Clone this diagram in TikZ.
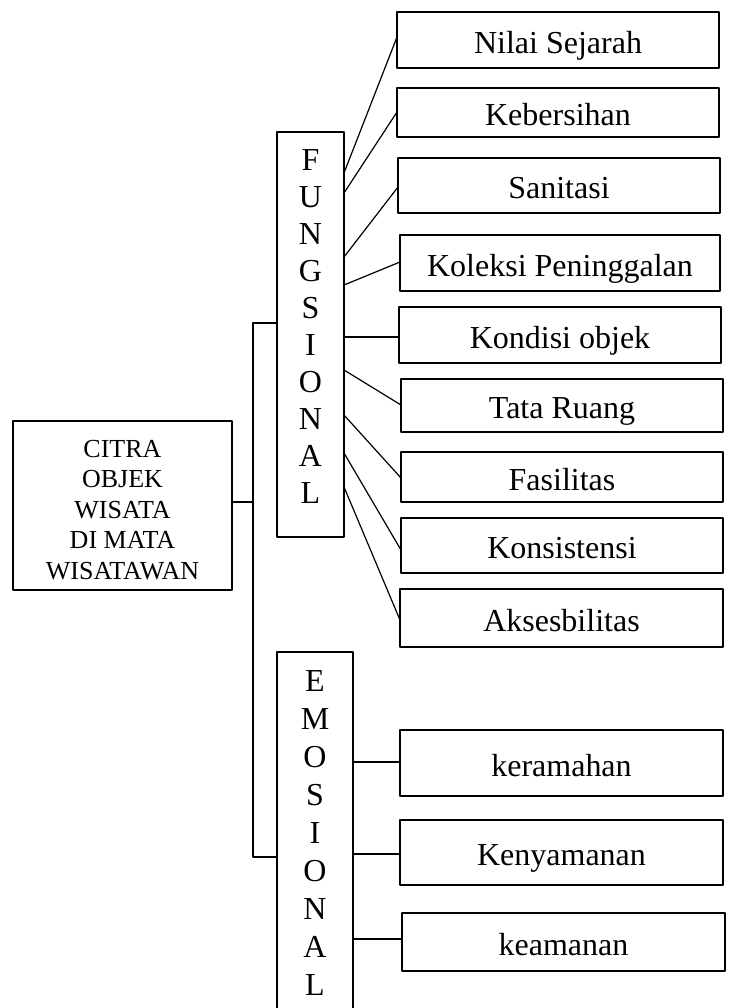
\documentclass[tikz,border=0pt]{standalone}
\usepackage{fontspec}
\setmainfont{Liberation Serif}
\begin{document}
\begin{tikzpicture}[x=0.5pt,y=-0.5pt,line join=round,line width=0.6pt,
	kotak/.style={draw,inner sep=0pt,outer sep=0pt,align=center,anchor=north west},
	isi/.style={font=\fontsize{16}{19}\selectfont,text height=15pt,text depth=2pt}]
	\useasboundingbox (0,0) rectangle (729,1008);
	\clip (0,0) rectangle (729,1008);
	% kotak utama
	\node[kotak,minimum width=109.5pt,minimum height=84.5pt,text height=74pt,font=\fontsize{13}{15.25}\selectfont] (citra) at (13,421) {CITRA\\OBJEK\\WISATA\\DI MATA\\WISATAWAN};
	% dua kelompok
	\node[kotak,minimum width=33.5pt,minimum height=202.5pt,text depth=8pt,font=\fontsize{16}{18.5}\selectfont] (fung) at (277,132) {F\\U\\N\\G\\S\\I\\O\\N\\A\\L};
	\node[kotak,minimum width=38pt,minimum height=181pt,font=\fontsize{16}{19}\selectfont] (emo) at (277,652) {E\\M\\O\\S\\I\\O\\N\\A\\L};
	% kotak kanan: nama/kiri/atas/kanan/bawah/teks
	\foreach \n/\l/\t/\r/\b/\s in {nilai/397/12/719/68/Nilai Sejarah, bersih/397/88/719/137/Kebersihan,
		sanitasi/398/158/720/213/Sanitasi, koleksi/400/235/720/291/Koleksi Peninggalan,
		kondisi/399/307/721/363/Kondisi objek, tata/401/379/723/432/Tata Ruang,
		fasilitas/401/452/723/502/Fasilitas, konsistensi/401/518/723/573/Konsistensi,
		akses/400/589/723/647/Aksesbilitas, ramah/400/730/723/796/keramahan,
		nyaman/400/820/723/885/Kenyamanan, aman/402/913/725/971/keamanan}
		\node[kotak,isi,minimum width={(\r-\l)*0.5pt},minimum height={(\b-\t)*0.5pt}] (\n) at (\l,\t) {\s};
	% batang
	\coordinate (cabang) at (253,502);
	\draw (citra.east |- cabang) -- (cabang);
	\draw (fung.west |- 0,323) -| (cabang) |- (emo.west |- 0,857);
	% garis ke kotak kanan
	\foreach \n/\ya/\yb in {nilai/173/37, bersih/193/112, sanitasi/257/187, koleksi/285/262,
		kondisi/337/337, tata/370/405, fasilitas/415/478, konsistensi/453/550, akses/487/620}
		\draw (fung.east |- 0,\ya) -- (\n.west |- 0,\yb);
	\foreach \n/\ya in {ramah/762, nyaman/854, aman/939}
		\draw (emo.east |- 0,\ya) -- (\n.west |- 0,\ya);
\end{tikzpicture}
\end{document}
